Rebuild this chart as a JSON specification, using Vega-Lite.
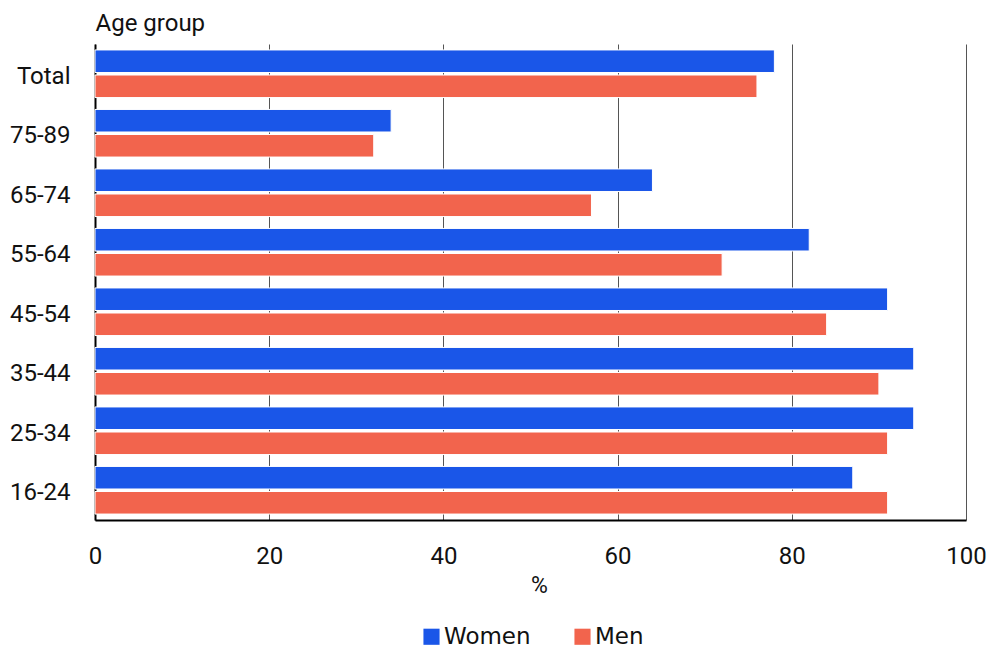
{
  "$schema": "https://vega.github.io/schema/vega-lite/v6.json",
  "autosize": "none",
  "width": 871,
  "height": 476,
  "padding": {"left": 95, "top": 44, "right": 26, "bottom": 128},
  "background": "white",
  "config": {
    "font": "Roboto",
    "view": {"stroke": null}
  },
  "data": {
    "values": [
      {"age": "Total", "sex": "Women", "pct": 78},
      {"age": "Total", "sex": "Men", "pct": 76},
      {"age": "75-89", "sex": "Women", "pct": 34},
      {"age": "75-89", "sex": "Men", "pct": 32},
      {"age": "65-74", "sex": "Women", "pct": 64},
      {"age": "65-74", "sex": "Men", "pct": 57},
      {"age": "55-64", "sex": "Women", "pct": 82},
      {"age": "55-64", "sex": "Men", "pct": 72},
      {"age": "45-54", "sex": "Women", "pct": 91},
      {"age": "45-54", "sex": "Men", "pct": 84},
      {"age": "35-44", "sex": "Women", "pct": 94},
      {"age": "35-44", "sex": "Men", "pct": 90},
      {"age": "25-34", "sex": "Women", "pct": 94},
      {"age": "25-34", "sex": "Men", "pct": 91},
      {"age": "16-24", "sex": "Women", "pct": 87},
      {"age": "16-24", "sex": "Men", "pct": 91}
    ]
  },
  "mark": {"type": "bar", "stroke": "white", "strokeWidth": 1},
  "encoding": {
    "y": {
      "field": "age",
      "type": "nominal",
      "sort": ["Total", "75-89", "65-74", "55-64", "45-54", "35-44", "25-34", "16-24"],
      "scale": {"paddingInner": 0.2, "paddingOuter": 0.1},
      "axis": {
        "title": "Age group",
        "titleAngle": 0,
        "titleAlign": "left",
        "titleBaseline": "middle",
        "titleX": 0,
        "titleY": -21,
        "titleFontSize": 24,
        "titleFontWeight": "normal",
        "titleColor": "#111",
        "labelFontSize": 24,
        "labelColor": "#111",
        "labelPadding": 25,
        "labelOffset": 3,
        "ticks": false,
        "domainColor": "#000",
        "domainWidth": 2
      }
    },
    "yOffset": {
      "field": "sex",
      "type": "nominal",
      "sort": ["Women", "Men"],
      "scale": {"paddingInner": 0.1}
    },
    "x": {
      "field": "pct",
      "type": "quantitative",
      "scale": {"domain": [0, 100], "nice": false},
      "axis": {
        "title": "%",
        "titleFontSize": 23,
        "titleFontWeight": "normal",
        "titleColor": "#111",
        "titlePadding": 6,
        "titleX": 444,
        "labelFontSize": 24,
        "labelColor": "#111",
        "labelPadding": 24,
        "labelFlush": false,
        "values": [0, 20, 40, 60, 80, 100],
        "ticks": false,
        "grid": true,
        "gridColor": "#555",
        "gridWidth": 1,
        "domainColor": "#000",
        "domainWidth": 2
      }
    },
    "color": {
      "field": "sex",
      "type": "nominal",
      "sort": ["Women", "Men"],
      "scale": {"domain": ["Women", "Men"], "range": ["#1a56e8", "#f2644d"]},
      "legend": {
        "title": null,
        "orient": "none",
        "legendX": 325,
        "legendY": 581,
        "direction": "horizontal",
        "symbolType": "square",
        "symbolSize": 260,
        "symbolStrokeWidth": 0,
        "labelFontSize": 23,
        "labelColor": "#111",
        "labelFont": "DejaVu Sans",
        "labelOffset": 1,
        "columnPadding": 40
      }
    }
  }
}
